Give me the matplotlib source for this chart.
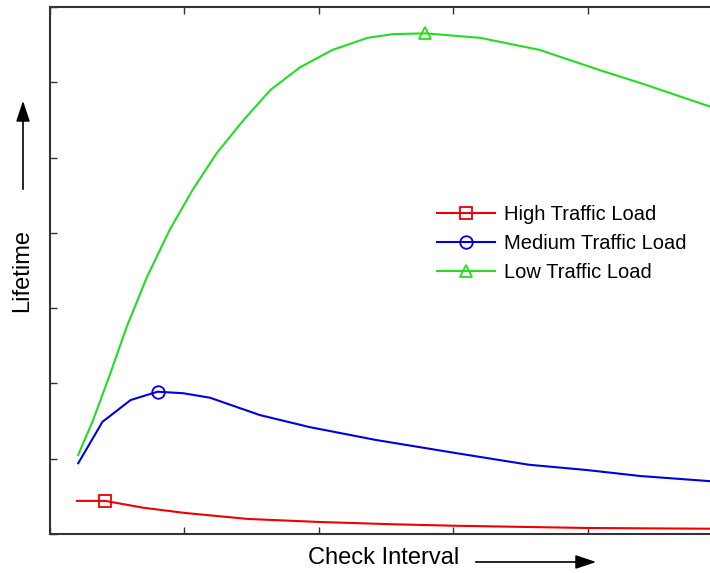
import numpy as np
import matplotlib
matplotlib.use("Agg")
import matplotlib.pyplot as plt

plt.rcParams['font.family'] = ['Liberation Sans', 'DejaVu Sans']

# values (axis units: x ticks 0..5, y ticks 0..7)
high_x = [0.20, 0.41, 0.69, 1.00, 1.47, 2.00, 2.54, 3.00, 3.99, 4.92]
high_y = [0.44, 0.44, 0.35, 0.28, 0.20, 0.16, 0.13, 0.11, 0.08, 0.07]

med_x = [0.21, 0.39, 0.60, 0.80, 0.99, 1.19, 1.56, 1.93, 2.42, 3.00, 3.56, 3.99, 4.39, 4.92]
med_y = [0.94, 1.49, 1.78, 1.89, 1.87, 1.81, 1.58, 1.42, 1.25, 1.08, 0.92, 0.85, 0.77, 0.70]

low_x = [0.21, 0.32, 0.45, 0.57, 0.72, 0.89, 1.06, 1.24, 1.44, 1.64, 1.86, 2.10,
         2.36, 2.55, 2.79, 3.20, 3.64, 4.09, 4.39, 4.92]
low_y = [1.05, 1.51, 2.14, 2.75, 3.41, 4.04, 4.57, 5.06, 5.50, 5.90, 6.20, 6.43,
         6.59, 6.64, 6.65, 6.59, 6.43, 6.16, 5.99, 5.67]

labels = ['High Traffic Load', 'Medium Traffic Load', 'Low Traffic Load']

W, H = 710, 573
fig = plt.figure(figsize=(W / 100, H / 100), dpi=100)
ax = fig.add_axes([50 / W, (H - 534) / H, 672.5 / W, 527 / H])

ax.plot(high_x, high_y, color='#ee0000', lw=1.5, marker='s', ms=8, mfc='none',
        mew=1.3, markevery=[1], label=labels[0])
ax.plot(med_x, med_y, color='#0000dd', lw=1.5, marker='o', ms=9, mfc='none',
        mew=1.3, markevery=[3], label=labels[1])
ax.plot(low_x, low_y, color='#22dd22', lw=1.5, marker='^', ms=9, mfc='none',
        mew=1.3, markevery=[14], label=labels[2])

ax.set_xlim(0, 5)
ax.set_ylim(0, 7)
ax.set_xticks(range(0, 6))
ax.set_yticks(range(0, 8))
ax.set_xticklabels([])
ax.set_yticklabels([])
ax.tick_params(direction='in', length=5, width=1, color='#333333',
               top=True, right=True)
for s in ax.spines.values():
    s.set_color('#333333')
    s.set_linewidth(1.5)

leg = ax.legend(loc='upper left', bbox_to_anchor=(437 / W, 1 - 205 / H),
                bbox_transform=fig.transFigure, frameon=False, fontsize=14.5,
                handlelength=2.9, handletextpad=0.45, labelspacing=0.5,
                borderpad=0, borderaxespad=0)

fig.text(384 / W, 1 - 558 / H, 'Check Interval', ha='center', va='center',
         fontsize=17)
fig.text(22 / W, 1 - 271 / H, 'Lifetime', ha='center', va='center',
         rotation=90, fontsize=17)

# the two arrows next to the axis labels
head = '-|>,head_length=0.9,head_width=0.3'
fig.add_artist(matplotlib.patches.FancyArrowPatch(
    (473 / W, 1 - 562 / H), (599 / W, 1 - 562 / H),
    transform=fig.transFigure, mutation_scale=14,
    arrowstyle=head, color='black', lw=1.2))
fig.add_artist(matplotlib.patches.FancyArrowPatch(
    (23 / W, 1 - 192 / H), (23 / W, 1 - 98 / H),
    transform=fig.transFigure, mutation_scale=14,
    arrowstyle=head, color='black', lw=1.2))

fig.savefig('out.png', dpi=100)
